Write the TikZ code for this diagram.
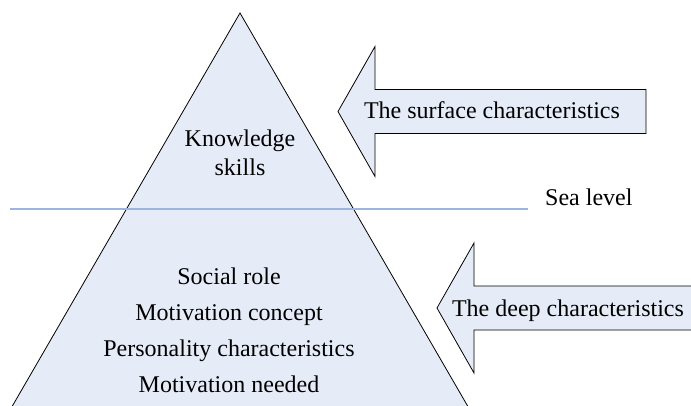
\documentclass[tikz,border=0pt]{standalone}
\usepackage{fontspec}
\setmainfont{Liberation Serif}
\definecolor{icefill}{RGB}{230, 236, 247}
\definecolor{sealine}{RGB}{155, 181, 222}
\tikzset{
    every node/.style={font=\fontsize{24}{28}\selectfont, inner sep=0pt,
        anchor=base},
    berg/.style={fill=icefill, draw=black, line width=.8pt},
    sea/.style={draw=sealine, line width=1.3pt},
    leftarrow/.pic={
        \draw[berg] (0, 0) -- (37, 65) -- (37, 22) -- (#1, 22)
            -- (#1, -22) -- (37, -22) -- (37, -65) -- cycle;
    },
}

\begin{document}
\begin{tikzpicture}[x=1pt, y=-1pt]
        \useasboundingbox (0, 0) rectangle (691, 405);
        \clip (0, 0) rectangle (691, 405);
        \draw[berg] (6, 417) -- (240, 13) -- (474, 417) -- cycle;
        \draw[sea] (10, 209) -- (528, 209);
        \node[anchor=base west] (sealevel) at (545, 205) {Sea level};
        \pic at (338, 111.5) {leftarrow=308};
        \pic at (437, 308) {leftarrow=280};
        \node (surface) at (492, 118) {The surface characteristics};
        \node (deep) at (568, 316) {The deep characteristics};
        \node (knowledge) at (240, 146) {Knowledge};
        \node (skills) at (240, 175) {skills};
        \foreach \t [count=\i] in {Social role, Motivation concept,
            Personality characteristics, Motivation needed}{
            \node (under\i) at (229, 248 + 36*\i) {\t};
        }
    \end{tikzpicture}
\end{document}
